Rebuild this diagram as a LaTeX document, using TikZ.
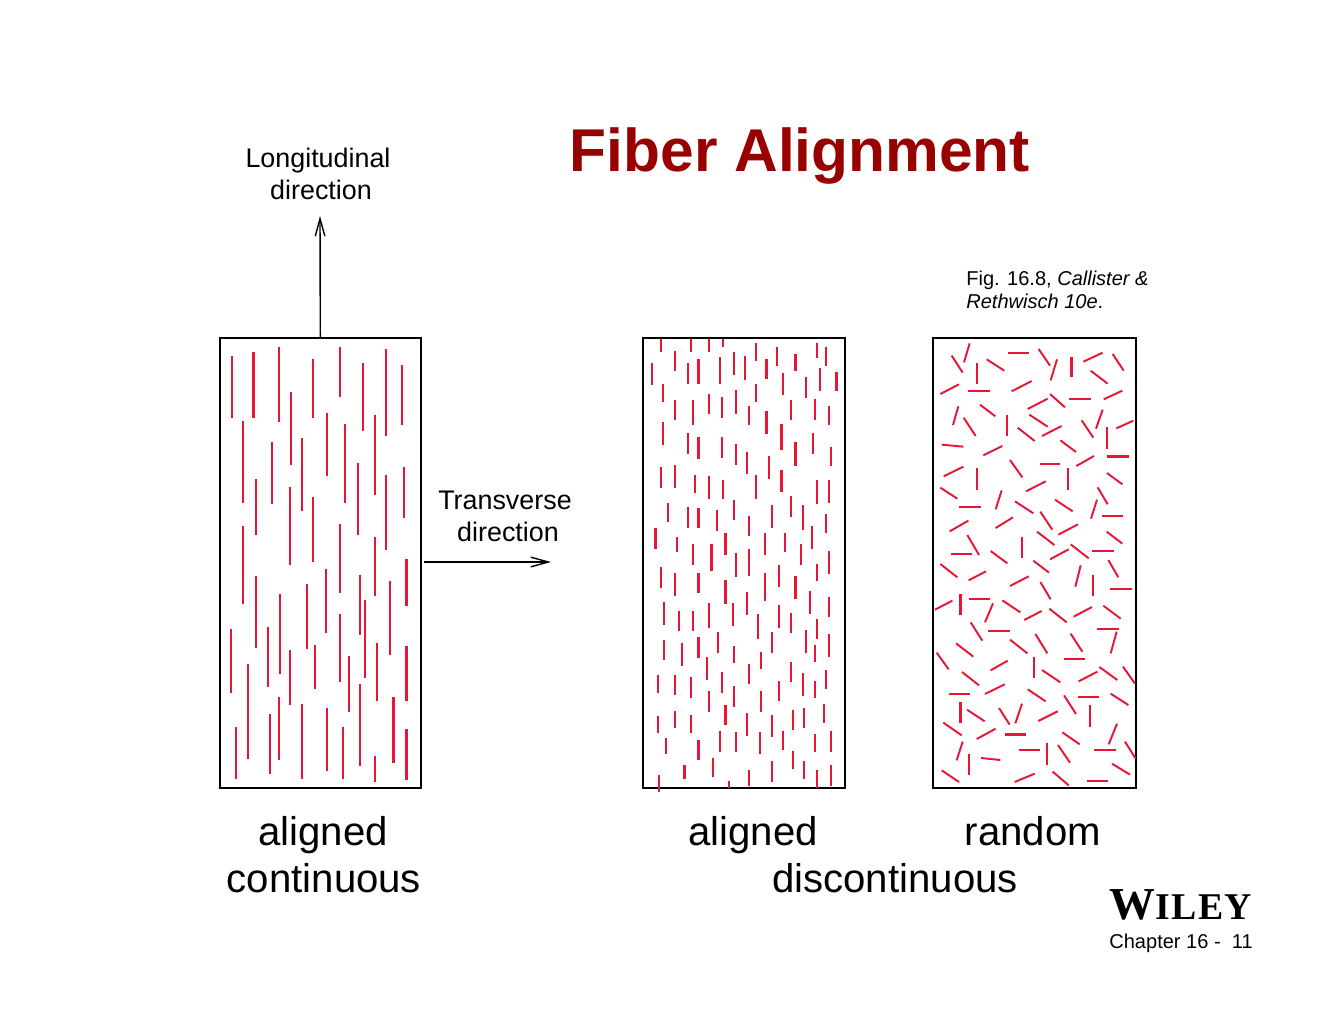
\documentclass[tikz,border=0pt]{standalone}
\usepackage{fontspec}
\setmainfont{Liberation Sans}
\newfontfamily\wileyfont[LetterSpace=4]{Liberation Serif}
\usetikzlibrary{arrows.meta}
\definecolor{fibercolor}{RGB}{232,22,52}
\definecolor{titlecolor}{RGB}{153,0,0}
\tikzset{
    panel/.style={draw, line width=1.15pt, inner sep=0pt, minimum height=9cm},
    fiber/.style={draw=fibercolor, line width=1.1pt},
    thickfiber/.style={draw=fibercolor, line width=1.7pt},
    zoomed/.style={shift={#1}, scale=1/3},
    biglabel/.style={font=\fontsize{22.85}{26}\selectfont, inner sep=0pt, anchor=base},
    midlabel/.style={font=\fontsize{15.3}{17}\selectfont, inner sep=0pt, anchor=base},
    smalllabel/.style={font=\fontsize{11.4}{14}\selectfont, inner sep=0pt, anchor=base},
    barb/.style={line width=0.8pt, -{Straight Barb[length=10pt, width=5.5pt]}}
}
\begin{document}
\begin{tikzpicture}[x=0.02cm, y=-0.02cm]
    \useasboundingbox (0,0) rectangle (1334,1031);

    \node[font=\fontsize{34.4}{38}\selectfont\bfseries, text=titlecolor, inner sep=0pt, anchor=base] (title) at (800,171) {Fiber Alignment};

    \node[panel, minimum width=4.01cm] (contbox) at (320.3,563) {};
    \node[panel, minimum width=4.05cm] (discbox) at (743.8,563) {};
    \node[panel, minimum width=4.05cm] (randbox) at (1034.7,563) {};

    \coordinate (longend) at (320,216);
    \coordinate (transstart) at (424,562);
    \coordinate (transend) at (551,562);
    \draw[barb] (contbox.north) -- (longend);
    \draw[barb] (transstart) -- (transend);

    \node[midlabel] (longtext) at (318,167) {Longitudinal};
    \node[midlabel] (longdir) at (321,199) {direction};
    \node[midlabel] (transtext) at (505,509) {Transverse};
    \node[midlabel] (transdir) at (508,541) {direction};

    \begin{scope}[zoomed={(210,330)}]
        \foreach \x/\a/\b in {67/77/265, 206/52/275, 309/87/265, 390/52/200, 458/100/303, 529/57/318, 577/105/285,
            100/272/518, 186/335/523, 243/186/404, 276/325/543, 352/249/437, 405/282/518, 496/254/495, 443/400/614,
            529/434/661, 582/410/565, 138/448/614, 239/472/705, 309/502/695, 100/588/823, 390/583/790, 496/620/797,
            138/739/953, 211/792/1033, 292/762/957, 348/718/909, 449/734/914, 540/754/975, 390/853/1056, 62/896/1088,
            115/1002/1286, 239/959/1124, 314/944/1076, 416/977/1147, 501/939/1114, 449/1063/1309, 206/1100/1291,
            181/1153/1333, 77/1192/1347, 277/1121/1347, 352/1133/1323, 400/1192/1347, 496/1278/1356}
            \draw[fiber] (\x,\a) -- (\x,\b);
        \foreach \x/\a/\b in {131/67/265, 589/686/828, 465/810/1043, 174/890/1071, 589/949/1114, 551/1100/1298, 589/1196/1351}
            \draw[thickfiber] (\x,\a) -- (\x,\b);
    \end{scope}

    \begin{scope}[zoomed={(635,330)}]
        \foreach \x/\a/\b in {78/27/65, 169/27/65, 222/27/65, 265/27/50, 121/62/123, 363/40/93, 426/52/108, 546/40/85,
            573/52/108, 51/100/166, 158/100/161, 255/82/161, 298/67/136, 330/77/151, 444/130/194, 513/142/204,
            555/115/184, 83/163/217, 121/211/270, 174/211/285, 222/191/252, 260/201/265, 303/181/252, 363/163/217,
            341/229/285, 469/211/270, 540/206/270, 583/229/285, 83/277/346, 158/310/371, 260/320/384, 303/343/404,
            336/367/432, 535/310/371, 588/352/409, 78/410/474, 121/406/474, 179/434/490, 222/439/508, 265/449/508,
            363/434/508, 401/378/446, 546/449/523, 583/449/518, 98/519/576, 158/530/594, 245/540/604, 298/509/571,
            341/557/619, 411/524/594, 469/497/561, 503/524/599, 573/552/609, 126/620/667, 389/610/675, 449/610/667,
            530/588/657, 174/643/705, 303/668/742, 341/658/737, 497/643/705, 583/663/732,
            78/712/775, 121/730/798, 389/730/813, 432/706/770, 546/701/752, 525/782/851, 583/800/861, 88/815/884,
            131/843/904, 174/843/904, 222/820/894, 293/820/889, 336/787/856, 369/853/927, 432/825/894, 469/848/909,
            546/868/927, 88/929/990, 141/939/1007, 250/906/970, 298/949/1000, 411/906/970, 513/901/970, 540/944/995,
            583/911/980, 217/982/1051, 379/967/1018, 260/1025/1089, 341/1002/1061, 469/997/1056, 68/1035/1089,
            121/1035/1094, 169/1040/1104, 503/1030/1099, 540/1052/1104, 573/1020/1076, 222/1083/1147, 298/1068/1131,
            379/1083/1147, 432/1052/1114, 68/1159/1210, 121/1144/1195, 169/1154/1210, 336/1149/1217, 411/1154/1222,
            474/1139/1199, 507/1134/1195, 568/1121/1180, 93/1225/1271, 255/1202/1266, 303/1207/1266, 374/1207/1271,
            444/1202/1261, 540/1212/1266, 589/1202/1266, 235/1283/1342, 474/1263/1318, 507/1293/1347, 589/1305/1367,
            72/1335/1385, 282/1353/1375, 341/1321/1367, 411/1293/1357, 546/1321/1375}
            \draw[fiber] (\x,\a) -- (\x,\b);
        \foreach \x/\a/\b in {190/87/161, 395/87/146, 481/72/123, 605/125/184, 395/244/313, 190/320/388, 438/282/361,
            481/335/409, 438/421/485, 190/535/594, 62/595/657, 271/610/675, 228/643/722, 190/730/790, 271/749/823,
            481/739/808, 190/921/985, 271/1126/1185, 190/1230/1291, 148/1305/1347}
            \draw[thickfiber] (\x,\a) -- (\x,\b);
    \end{scope}

    \begin{scope}[zoomed={(925,330)}]
        \foreach \a/\b/\c/\d in {134/40/117/97, 80/77/113/128, 185/88/238/122, 250/68/312/68, 341/57/375/107,
            396/88/377/151, 475/95/533/68, 563/72/596/122, 156/100/156/161, 497/122/548/161, 46/192/102/163,
            130/182/196/182, 260/184/320/153, 308/237/368/206, 375/192/420/232, 431/207/497/207, 536/208/592/182,
            100/229/84/285, 165/224/211/259, 116/263/152/318, 246/254/246/318, 313/254/368/290, 278/293/329/333,
            351/318/410/288, 470/271/505/323, 533/239/513/296, 547/292/547/356, 574/295/625/272, 50/344/115/350,
            406/331/453/366, 175/376/232/348, 255/390/292/442, 345/402/406/402, 454/408/507/378, 56/439/115/410,
            156/415/156/480, 428/415/428/480, 546/429/592/463, 46/473/97/506, 303/484/362/454, 230/481/212/538,
            518/472/548/523, 270/514/325/550, 390/509/443/544, 516/509/498/566, 103/531/168/531, 530/559/593/559,
            346/545/382/599, 74/604/130/572, 212/594/264/562, 400/614/459/583, 336/605/388/645, 545/605/592/641,
            127/615/162/675, 290/620/290/685, 197/663/247/700, 375/688/431/658, 437/643/491/685, 502/664/567/664,
            325/692/372/728, 550/690/580/742, 46/702/97/742, 131/751/183/724, 467/706/451/770, 255/768/311/739,
            346/756/377/808, 504/734/504/798, 555/778/620/778, 30/839/82/812, 131/806/196/806, 204/820/180/877,
            232/811/286/847, 298/870/350/843, 373/836/425/877, 446/860/501/831, 535/827/587/866, 137/877/172/932,
            189/902/254/902, 517/897/581/897, 575/905/557/970, 255/929/307/970, 331/912/367/970, 437/911/472/965,
            93/940/145/980, 35/968/71/1018, 197/1021/248/992, 327/982/327/1044, 417/988/479/988, 351/1020/406/1057,
            523/1011/577/1050, 461/1054/517/1025, 594/1010/630/1061, 111/1026/162/1066, 73/1092/135/1092,
            180/1092/239/1063, 308/1078/362/1114, 417/1096/453/1152, 459/1101/522/1101, 557/1091/610/1125,
            494/1126/494/1190, 126/1139/179/1174, 222/1134/254/1184, 291/1121/271/1180, 340/1173/398/1144,
            55/1178/110/1216, 155/1227/212/1196, 412/1207/464/1243, 576/1181/551/1243, 113/1235/95/1291,
            282/1259/345/1259, 365/1240/365/1304, 399/1245/435/1298, 507/1259/572/1259, 600/1235/632/1286,
            132/1272/132/1334, 168/1284/226/1290, 561/1301/615/1334, 50/1321/102/1356, 269/1356/329/1331,
            383/1325/431/1366, 487/1354/550/1354}
            \draw[fiber] (\a,\b) -- (\c,\d);
        \foreach \a/\b/\c/\d in {438/80/438/141, 545/380/611/380, 78/672/141/672, 106/792/106/856, 106/1116/106/1180, 239/1214/302/1214}
            \draw[thickfiber] (\a,\b) -- (\c,\d);
    \end{scope}

    \node[biglabel] (contaligned) at (323,845) {aligned};
    \node[biglabel] (contname) at (324,892) {continuous};
    \node[biglabel] (discaligned) at (753,845) {aligned};
    \node[biglabel] (discrandom) at (1033,845) {random};
    \node[biglabel] (discname) at (895,892) {discontinuous};

    \node[smalllabel, anchor=base west] (figline) at (966,285) {Fig. 16.8, \textit{Callister \&}};
    \node[smalllabel, anchor=base west] (figref) at (966,308) {\textit{Rethwisch 10e}.};

    \node[font=\wileyfont\bfseries, inner sep=0pt, anchor=base] (wiley) at (1181,919) {\fontsize{26}{30}\selectfont W\fontsize{21.5}{30}\selectfont ILEY};
    \node[smalllabel] (chapter) at (1181,948) {Chapter 16 -\ \ 11};
\end{tikzpicture}
\end{document}
